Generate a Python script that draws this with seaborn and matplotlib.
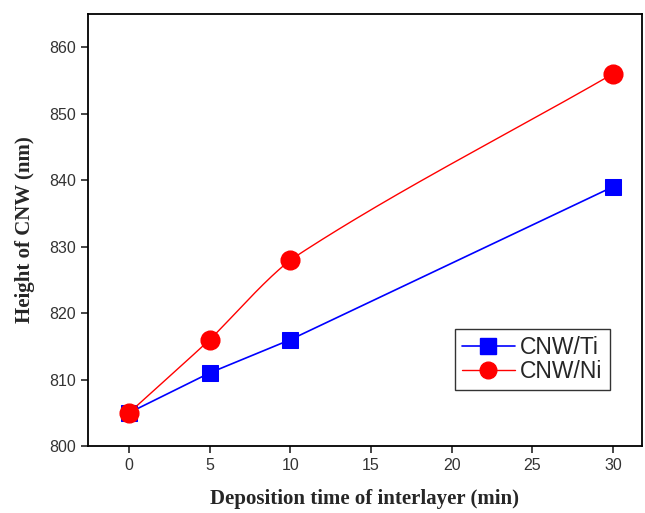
import numpy as np
import pandas as pd
import matplotlib
matplotlib.use("Agg")
import matplotlib.pyplot as plt
import seaborn as sns
from matplotlib.lines import Line2D

time_min = [0, 5, 10, 30]
cnw_ti = [805, 811, 816, 839]
cnw_ni = [805, 816, 828, 856]
x_ticks = [0, 5, 10, 15, 20, 25, 30]
y_ticks = [800, 810, 820, 830, 840, 850, 860]

sns.set_style("ticks")
plt.rcParams['font.family'] = ['Liberation Sans', 'DejaVu Sans']

fig = plt.figure(figsize=(6.45, 5.13), dpi=100)
ax = fig.add_axes([0.1364, 0.1306, 0.8589, 0.8421])
ax.set_xlim(-2.55, 31.8)
ax.set_ylim(800, 865)


def smooth_display(ax, x, y, n=60):
    # per-segment Hermite curve in display space, gentle bends, no overshoot
    P = ax.transData.transform(np.column_stack([x, y]))
    k = len(P)

    def ang(v):
        return np.arctan2(v[1], v[0])

    nb = np.zeros(k)
    nb[0] = ang(P[1] - P[0])
    nb[-1] = ang(P[-1] - P[-2])
    for i in range(1, k - 1):
        nb[i] = ang(P[i + 1] - P[i - 1])
    t = np.linspace(0, 1, n)[:, None]
    h00 = 2 * t**3 - 3 * t**2 + 1; h10 = t**3 - 2 * t**2 + t
    h01 = -2 * t**3 + 3 * t**2; h11 = t**3 - t**2
    pts = []
    for i in range(k - 1):
        c = P[i + 1] - P[i]
        L = np.linalg.norm(c)
        ac = ang(c)
        a0 = max(nb[i], ac) if i > 0 else ac
        a1 = 0.5 * (nb[i + 1] + ac) if i + 1 < k - 1 else ac
        T0 = L * np.array([np.cos(a0), np.sin(a0)])
        T1 = L * np.array([np.cos(a1), np.sin(a1)])
        seg = h00 * P[i] + h10 * T0 + h01 * P[i + 1] + h11 * T1
        pts.append(seg if i == 0 else seg[1:])
    pts = np.vstack(pts)
    data = ax.transData.inverted().transform(pts)
    return data[:, 0], data[:, 1]


df_ti = pd.DataFrame({"t": time_min, "h": cnw_ti})
df_ni = pd.DataFrame({"t": time_min, "h": cnw_ni})

sns.lineplot(data=df_ti, x="t", y="h", ax=ax, color="#0000ff", lw=1.2,
             marker="s", markersize=11, markeredgecolor="#0000ff", legend=False)
xs, ys = smooth_display(ax, time_min, cnw_ni)
ax.plot(xs, ys, color="#ff0000", lw=1.0)
sns.scatterplot(data=df_ni, x="t", y="h", ax=ax, color="#ff0000", marker="o",
                s=180, edgecolor="#ff0000", zorder=5)

handles = [Line2D([], [], color="#0000ff", lw=1.2, marker="s", markersize=11),
           Line2D([], [], color="#ff0000", lw=1.0, marker="o", markersize=12)]
leg = ax.legend(handles, ["CNW/Ti", "CNW/Ni"], loc="upper left",
                bbox_to_anchor=(0.6625, 0.271), frameon=True, fancybox=False,
                edgecolor="black", fontsize=16.5, handlelength=2.3,
                borderpad=0.3, labelspacing=0.04, handletextpad=0.25,
                borderaxespad=0)
leg.get_frame().set_linewidth(1.0)

ax.set_xlim(-2.55, 31.8)
ax.set_ylim(800, 865)
ax.set_xticks(x_ticks)
ax.set_yticks(y_ticks)
ax.tick_params(direction="out", length=5, width=1.2, labelsize=11.5,
               labelcolor="#333333", top=False, right=False)
for s in ax.spines.values():
    s.set_linewidth(1.3); s.set_color("black")
ax.set_xlabel("Deposition time of interlayer (min)", fontsize=15, fontweight="bold",
              family=["Liberation Serif"], labelpad=12)
ax.set_ylabel("Height of CNW (nm)", fontsize=15, fontweight="bold",
              family=["Liberation Serif"], labelpad=10)

fig.savefig("out.png", dpi=100)
